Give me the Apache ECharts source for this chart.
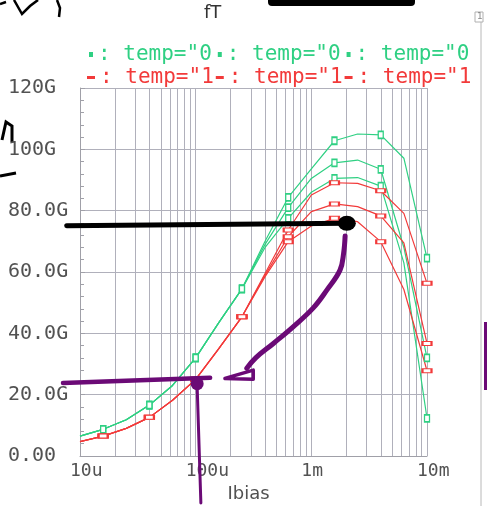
<!DOCTYPE html>
<html><head><meta charset="utf-8">
<script src="https://cdn.jsdelivr.net/npm/echarts@6/dist/echarts.min.js"></script>
<style>html,body{margin:0;padding:0;background:#fff}#c{width:487px;height:506px}</style>
</head><body><div id="c"></div>
<script>
// ---- data ----
const ibias = [1e-5, 1.585e-5, 2.512e-5, 3.981e-5, 6.310e-5, 1e-4, 1.585e-4, 2.512e-4, 3.981e-4, 6.310e-4, 1e-3, 1.585e-3, 2.512e-3, 3.981e-3, 6.310e-3, 1e-2];
const greenA = [6.5, 8.7, 11.8, 16.6, 23.0, 32.0, 43.5, 54.5, 70.0, 84.3, 93.6, 102.8, 105.0, 104.7, 97.1, 64.5];
const greenB = [6.5, 8.7, 11.8, 16.6, 23.0, 32.0, 43.5, 54.5, 69.0, 81.0, 90.5, 95.6, 96.5, 93.5, 68.0, 32.0];
const greenC = [6.5, 8.7, 11.8, 16.6, 23.0, 32.0, 43.5, 54.5, 68.0, 77.5, 86.0, 90.5, 90.8, 88.0, 63.0, 12.3];
const redA = [4.7, 6.5, 9.0, 12.6, 18.2, 25.0, 35.0, 45.4, 59.5, 73.7, 85.1, 89.1, 88.9, 86.5, 79.1, 56.3];
const redB = [4.7, 6.5, 9.0, 12.6, 18.2, 25.0, 35.0, 45.4, 59.0, 71.5, 79.7, 82.2, 81.3, 78.3, 69.5, 36.7];
const redC = [4.7, 6.5, 9.0, 12.6, 18.2, 25.0, 35.0, 45.4, 58.5, 69.9, 75.0, 77.5, 76.4, 69.9, 54.3, 27.8];
const seriesNames = ['g1', 'g2', 'g3', 'r1', 'r2', 'r3'];
const legendGreenText = ': temp="0';
const legendRedText = ': temp="1';
const xTickValues = [1e-5, 1e-4, 1e-3, 1e-2];
const xTickLabels = ['10u', '100u', '1m', '10m'];
const yTickLabels = ['0.00', '20.0G', '40.0G', '60.0G', '80.0G', '100G', '120G'];
const titleText = 'fT';
const xName = 'Ibias';
// hand-drawn annotations: [log10(Ibias), fT in G]
const annotBlackLine = [[-5.115, 75.1], [-2.693, 75.9]];
const annotBlackDot = [[-2.693, 75.9]];
const annotPurpleH = [[-5.147, 23.8], [-3.875, 25.5]];
const annotPurpleDot = [[-3.987, 23.6]];
const annotPurpleV = [[-3.987, 22.6], [-3.955, -15.3]];
const annotPurpleCurve = [[-2.708, 71.7], [-2.721, 66.1], [-2.752, 60.6], [-2.866, 54.1], [-2.983, 48.3], [-3.155, 42.2], [-3.328, 36.7], [-3.481, 32.0], [-3.558, 28.6]];
const annotPurpleHead = [[-3.747, 25.3], [-3.502, 28.0], [-3.502, 25.0], [-3.747, 25.3]];

// ---- chart ----
const GREEN = '#2fd083';
const RED = '#f23a3a';
const GRID = '#b0b0bb';
const MONO = '"DejaVu Sans Mono", monospace';
const PURPLE = '#6b0a76';
const TXT = '#525252';
const W = 487, H = 506, GL = 80, GR = 60, GT = 88, GB = 50;
const X_LOG_MIN = -5, X_LOG_MAX = -2, Y_MIN = 0, Y_MAX = 120;
// overlay axes spanning the whole canvas, aligned with the plot axes
const pxPerDecade = (W - GL - GR) / (X_LOG_MAX - X_LOG_MIN);
const pxPerG = (H - GT - GB) / (Y_MAX - Y_MIN);
const ovXMin = X_LOG_MIN - GL / pxPerDecade, ovXMax = X_LOG_MAX + GR / pxPerDecade;
const ovYMin = Y_MIN - GB / pxPerG, ovYMax = Y_MAX + GT / pxPerG;

function pairs(ys) { return ibias.map((x, i) => [x, ys[i]]); }
function dataSeries(name, ys, color, size) {
  return {
    name: name, type: 'line', data: pairs(ys), xAxisIndex: 0, yAxisIndex: 0,
    symbol: (v, p) => (p.dataIndex % 2 === 1 ? 'rect' : 'none'),
    symbolSize: size, showSymbol: true,
    lineStyle: { color: color, width: 1.2 },
    itemStyle: { color: '#fff', borderColor: color, borderWidth: 1.5 },
    emphasis: { disabled: true }, animation: false
  };
}
function annot(data, color, width, extra) {
  return Object.assign({
    type: 'line', data: data, xAxisIndex: 1, yAxisIndex: 1, symbol: 'none', clip: false, silent: true, z: 10,
    lineStyle: { color: color, width: width, cap: 'round', join: 'round' },
    emphasis: { disabled: true }, animation: false
  }, extra || {});
}

const chart = echarts.init(document.getElementById('c'), null, { renderer: 'canvas' });
chart.setOption({
  backgroundColor: '#fff',
  animation: false,
  title: { text: titleText, left: 204, top: 4, padding: 0,
    textStyle: { fontFamily: '"DejaVu Sans", sans-serif', fontSize: 18, fontWeight: 'normal', color: '#333' } },
  legend: [
    { data: seriesNames.slice(0, 3), left: 89, top: 44, padding: 0, itemGap: 6, itemWidth: 4, itemHeight: 5, icon: 'rect',
      formatter: () => legendGreenText, selectedMode: false,
      itemStyle: { color: GREEN, borderWidth: 0 },
      textStyle: { color: GREEN, fontFamily: MONO, fontSize: 21 } },
    { data: seriesNames.slice(3), left: 87, top: 67, padding: 0, itemGap: 2, itemWidth: 8, itemHeight: 3, icon: 'rect',
      formatter: () => legendRedText, selectedMode: false,
      itemStyle: { color: RED, borderWidth: 0 },
      textStyle: { color: RED, fontFamily: MONO, fontSize: 21 } }
  ],
  grid: [
    { left: GL, right: GR, top: GT, bottom: GB, containLabel: false, outerBoundsMode: 'none' },
    { left: 0, right: 0, top: 0, bottom: 0, containLabel: false, outerBoundsMode: 'none' }
  ],
  xAxis: [{
    type: 'log', logBase: 10, min: Math.pow(10, X_LOG_MIN), max: Math.pow(10, X_LOG_MAX), gridIndex: 0,
    name: xName, nameLocation: 'middle', nameGap: 26,
    nameTextStyle: { fontFamily: '"DejaVu Sans", sans-serif', fontSize: 18, color: TXT, padding: [0, 10, 0, 0] },
    axisLine: { lineStyle: { color: '#a0a0a8' } },
    axisTick: { show: false },
    minorTick: { show: false, splitNumber: 9 },
    splitLine: { show: true, lineStyle: { color: GRID, width: 1 } },
    minorSplitLine: { show: true, lineStyle: { color: GRID, width: 1 } },
    axisLabel: {
      fontFamily: MONO, fontSize: 18, color: TXT, margin: 6, align: 'left', padding: [0, 0, 0, -10],
      formatter: (v) => {
        let best = 0;
        xTickValues.forEach((t, i) => { if (Math.abs(Math.log10(t) - Math.log10(v)) < Math.abs(Math.log10(xTickValues[best]) - Math.log10(v))) best = i; });
        return xTickLabels[best];
      }
    }
  }, {
    type: 'value', gridIndex: 1, min: ovXMin, max: ovXMax, show: false, splitLine: { show: false }
  }],
  yAxis: [{
    type: 'value', min: Y_MIN, max: Y_MAX, interval: 20, gridIndex: 0,
    axisLine: { show: true, lineStyle: { color: '#a0a0a8' } },
    axisTick: { show: true, inside: true, length: 5, lineStyle: { color: '#a0a0a8' } },
    minorTick: { show: true, splitNumber: 5, length: 4, lineStyle: { color: '#a0a0a8' } },
    splitLine: { show: true, lineStyle: { color: GRID, width: 1 } },
    axisLabel: {
      fontFamily: MONO, fontSize: 20, color: TXT, margin: 72, align: 'left', padding: [0, 0, 19, 0],
      formatter: (v) => yTickLabels[Math.round(v / 20)]
    }
  }, {
    type: 'value', gridIndex: 1, min: ovYMin, max: ovYMax, show: false, splitLine: { show: false }
  }],
  series: [
    dataSeries(seriesNames[0], greenA, GREEN, [5, 7]),
    dataSeries(seriesNames[1], greenB, GREEN, [5, 7]),
    dataSeries(seriesNames[2], greenC, GREEN, [5, 7]),
    dataSeries(seriesNames[3], redA, RED, [9, 4]),
    dataSeries(seriesNames[4], redB, RED, [9, 4]),
    dataSeries(seriesNames[5], redC, RED, [9, 4]),
    annot(annotBlackLine, '#000', 5),
    annot(annotBlackDot, '#000', 0, { symbol: 'circle', symbolSize: [18, 15], itemStyle: { color: '#000' }, showSymbol: true }),
    annot(annotPurpleH, PURPLE, 4.5),
    annot(annotPurpleV, PURPLE, 3),
    annot(annotPurpleDot, PURPLE, 0, { symbol: 'circle', symbolSize: 13, itemStyle: { color: PURPLE }, showSymbol: true }),
    annot(annotPurpleCurve, PURPLE, 5, { smooth: 0.4 }),
    annot(annotPurpleHead, PURPLE, 3.5)
  ],
  graphic: [
    { type: 'rect', shape: { x: 268, y: -4, width: 147, height: 10, r: 4 }, style: { fill: '#000' }, silent: true },
    { type: 'polyline', shape: { points: [[0, 176], [16, 173]] }, style: { stroke: '#000', lineWidth: 3 }, silent: true },
    { type: 'polyline', shape: { points: [[2, 140], [6, 122], [12, 126], [12, 142]] }, style: { stroke: '#000', lineWidth: 3, fill: null }, silent: true },
    { type: 'polyline', shape: { points: [[0, 4], [6, 2]] }, style: { stroke: '#000', lineWidth: 2.5, fill: null }, silent: true },
    { type: 'polyline', shape: { points: [[14, 0], [22, 14], [30, 6], [38, 0]] }, style: { stroke: '#000', lineWidth: 2.5, fill: null }, silent: true },
    { type: 'polyline', shape: { points: [[57, 0], [60, 8], [59, 17]] }, style: { stroke: '#000', lineWidth: 2.5, fill: null }, silent: true },
    { type: 'line', shape: { x1: 481, y1: 22, x2: 481, y2: 506 }, style: { stroke: '#b8b8b8', lineWidth: 1 }, silent: true },
    { type: 'rect', shape: { x: 475, y: 12, width: 8, height: 10 }, style: { fill: '#fff', stroke: '#b0b0b0', lineWidth: 1 }, silent: true },
    { type: 'text', x: 477, y: 12, style: { text: '1', font: '9px "DejaVu Sans"', fill: '#888' }, silent: true },
    { type: 'line', shape: { x1: 485.5, y1: 322, x2: 485.5, y2: 390 }, style: { stroke: PURPLE, lineWidth: 3 }, silent: true }
  ]
});
</script></body></html>
